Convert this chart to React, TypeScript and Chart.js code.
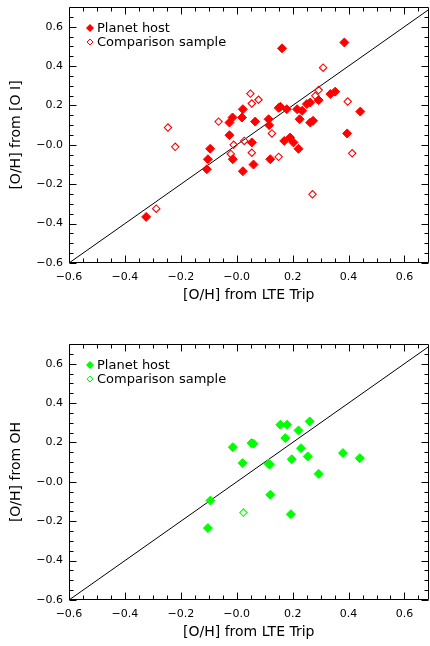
import React, { useEffect, useRef } from "react";
import { Chart, registerables } from "chart.js";

Chart.register(...registerables);

// ---- Data ----
// Top panel: [O/H] from [O I] vs [O/H] from LTE Trip
const hostTopX = [-0.324, -0.107, -0.103, -0.095, -0.026, -0.026, -0.015, -0.014, 0.019, 0.022, 0.022, 0.054, 0.060, 0.066, 0.114, 0.116, 0.120, 0.162, 0.150, 0.156, 0.179, 0.170, 0.191, 0.203, 0.221, 0.216, 0.225, 0.234, 0.251, 0.263, 0.293, 0.263, 0.273, 0.335, 0.352, 0.385, 0.395, 0.442];
const hostTopY = [-0.366, -0.124, -0.073, -0.020, 0.049, 0.113, 0.139, -0.073, 0.139, 0.181, -0.134, 0.012, -0.100, 0.118, 0.130, 0.100, -0.073, 0.490, 0.188, 0.193, 0.181, 0.020, 0.037, 0.012, -0.020, 0.181, 0.130, 0.173, 0.207, 0.215, 0.227, 0.113, 0.122, 0.258, 0.270, 0.520, 0.058, 0.169];
const compTopX = [-0.288, -0.246, -0.220, -0.065, -0.021, -0.011, 0.027, 0.049, 0.054, 0.078, 0.054, 0.126, 0.150, 0.271, 0.281, 0.293, 0.309, 0.397, 0.413];
const compTopY = [-0.324, 0.088, -0.010, 0.118, -0.046, 0.000, 0.020, 0.260, 0.210, 0.229, -0.040, 0.058, -0.061, -0.251, 0.249, 0.278, 0.392, 0.220, -0.043];

// Bottom panel: [O/H] from OH vs [O/H] from LTE Trip
const hostBotX = [-0.103, -0.094, -0.014, 0.021, 0.053, 0.060, 0.114, 0.118, 0.120, 0.156, 0.174, 0.180, 0.194, 0.197, 0.221, 0.230, 0.254, 0.261, 0.293, 0.380, 0.440];
const hostBotY = [-0.235, -0.095, 0.176, 0.095, 0.197, 0.194, 0.092, 0.088, -0.066, 0.290, 0.222, 0.290, -0.164, 0.115, 0.261, 0.171, 0.129, 0.307, 0.041, 0.146, 0.120];
const compBotX = [0.024];
const compBotY = [-0.156];

// Axes
const axisMin = -0.6;
const xMax = 0.686;
const yMax = 0.7;
const majorTicks = [-0.6, -0.4, -0.2, 0.0, 0.2, 0.4, 0.6];
const minorStep = 0.05;
const xTitle = "[O/H] from LTE Trip";
const yTitleTop = "[O/H] from [O I]";
const yTitleBottom = "[O/H] from OH";
const legendLabels = ["Planet host", "Comparison sample"];
const diagonal = [-0.6, 0.7];

const FONT = "'DejaVu Sans', sans-serif";

function fmt(v: number): string {
  if (Math.abs(v) < 1e-9) return "\u22120.0";
  if (v < 0) return "\u2212" + Math.abs(v).toFixed(1);
  return v.toFixed(1);
}

const framePlugin = {
  id: "idlFrame",
  afterDatasetsDraw(chart: any, _args: any, opts: any) {
    const { ctx, chartArea: a, scales } = chart;
    const xs = scales.x;
    const ys = scales.y;
    ctx.save();
    ctx.strokeStyle = "#000";
    ctx.lineWidth = 1;
    const L = Math.round(a.left) + 0.5;
    const R = Math.round(a.right) - 0.5;
    const T = Math.round(a.top) + 0.5;
    const B = Math.round(a.bottom) - 0.5;
    ctx.beginPath();
    ctx.rect(L, T, R - L, B - T);
    ctx.stroke();
    ctx.beginPath();
    for (let k = -12; k <= 14; k++) {
      const v = k * minorStep;
      const len = k % 4 === 0 ? 7 : 4;
      if (v >= xs.min - 1e-9 && v <= xs.max - 0.01) {
        const px = Math.round(xs.getPixelForValue(v)) + 0.5;
        ctx.moveTo(px, B);
        ctx.lineTo(px, B - len);
        ctx.moveTo(px, T);
        ctx.lineTo(px, T + len);
      }
      if (v >= ys.min - 1e-9 && v <= ys.max - 0.01) {
        const py = Math.round(ys.getPixelForValue(v)) + 0.5;
        ctx.moveTo(L, py);
        ctx.lineTo(L + len, py);
        ctx.moveTo(R, py);
        ctx.lineTo(R - len, py);
      }
    }
    ctx.stroke();

    // legend
    const color = opts.color;
    const lx = a.left + 21;
    const ly0 = a.top + 21;
    const dy = 14;
    ctx.font = "13px " + FONT;
    ctx.textBaseline = "middle";
    ctx.textAlign = "left";
    for (let i = 0; i < legendLabels.length; i++) {
      const cy = ly0 + i * dy;
      ctx.beginPath();
      const r = i === 0 ? 4 : 3;
      ctx.moveTo(lx, cy - r);
      ctx.lineTo(lx + r, cy);
      ctx.lineTo(lx, cy + r);
      ctx.lineTo(lx - r, cy);
      ctx.closePath();
      if (i === 0) {
        ctx.fillStyle = color;
        ctx.fill();
      } else {
        ctx.strokeStyle = color;
        ctx.stroke();
      }
      ctx.fillStyle = "#000";
      ctx.fillText(legendLabels[i], lx + 7, cy + 0.5);
    }
    ctx.restore();
  },
};

type PanelProps = {
  hostX: number[];
  hostY: number[];
  compX: number[];
  compY: number[];
  color: string;
  yTitle: string;
  top: number;
  padTop: number;
  xAxisHeight: number;
  xTitlePad: number;
};

function Panel(p: PanelProps) {
  const ref = useRef<HTMLCanvasElement | null>(null);
  useEffect(() => {
    if (!ref.current) return;
    const chart = new Chart(ref.current, {
      type: "scatter",
      data: {
        datasets: [
          {
            type: "scatter",
            label: legendLabels[0],
            data: p.hostX.map((x, i) => ({ x, y: p.hostY[i] })),
            pointStyle: "rectRot",
            pointRadius: 4.5,
            pointBackgroundColor: p.color,
            pointBorderColor: p.color,
            pointBorderWidth: 1,
          },
          {
            type: "scatter",
            label: legendLabels[1],
            data: p.compX.map((x, i) => ({ x, y: p.compY[i] })),
            pointStyle: "rectRot",
            pointRadius: 3.7,
            pointBackgroundColor: "rgba(0,0,0,0)",
            pointBorderColor: p.color,
            pointBorderWidth: 1.1,
          },
          {
            type: "line",
            label: "1:1",
            data: diagonal.map((v) => ({ x: v, y: v })),
            borderColor: "#000",
            borderWidth: 1,
            pointRadius: 0,
            fill: false,
          } as any,
        ],
      },
      options: {
        responsive: false,
        animation: false,
        devicePixelRatio: 1,
        layout: { padding: { top: p.padTop, right: 2, left: 0, bottom: 0 } },
        plugins: {
          legend: { display: false },
          tooltip: { enabled: false },
          idlFrame: { color: p.color },
        } as any,
        scales: {
          x: {
            type: "linear",
            min: axisMin,
            max: xMax,
            grid: { display: false, drawTicks: false },
            border: { display: false },
            afterBuildTicks: (s: any) => {
              s.ticks = majorTicks.map((v) => ({ value: v }));
            },
            afterFit: (s: any) => {
              s.height = p.xAxisHeight;
              s.paddingLeft = 0;
              s.paddingRight = 0;
            },
            ticks: {
              callback: (v: any) => fmt(Number(v)),
              font: { family: FONT, size: 11 },
              color: "#000",
              padding: 8,
              maxRotation: 0,
              autoSkip: false,
            },
            title: {
              display: true,
              text: xTitle,
              font: { family: FONT, size: 14 },
              color: "#000",
              padding: { top: 0, bottom: p.xTitlePad },
            },
          },
          y: {
            type: "linear",
            min: axisMin,
            max: yMax,
            grid: { display: false, drawTicks: false },
            border: { display: false },
            afterBuildTicks: (s: any) => {
              s.ticks = majorTicks.map((v) => ({ value: v }));
            },
            afterFit: (s: any) => {
              s.width = 69;
              s.paddingTop = 0;
              s.paddingBottom = 0;
            },
            ticks: {
              callback: (v: any) => fmt(Number(v)),
              font: { family: FONT, size: 11 },
              color: "#000",
              padding: 6,
              autoSkip: false,
            },
            title: {
              display: true,
              text: p.yTitle,
              font: { family: FONT, size: 14 },
              color: "#000",
              padding: { top: 8, bottom: 0 },
            },
          },
        },
      },
      plugins: [framePlugin],
    } as any);
    return () => chart.destroy();
  }, []);
  return (
    <div style={{ position: "absolute", left: 0, top: p.top, width: 430, height: 323, overflow: "hidden" }}>
      <canvas ref={ref} width={434} height={323} style={{ display: "block" }} />
    </div>
  );
}

export default function App() {
  return (
    <div style={{ position: "absolute", left: 0, top: 0, width: 430, height: 646, background: "#fff", overflow: "hidden" }}>
      <Panel
        hostX={hostTopX}
        hostY={hostTopY}
        compX={compTopX}
        compY={compTopY}
        color="#ff0000"
        yTitle={yTitleTop}
        top={0}
        padTop={7}
        xAxisHeight={60}
        xTitlePad={19}
      />
      <Panel
        hostX={hostBotX}
        hostY={hostBotY}
        compX={compBotX}
        compY={compBotY}
        color="#00ff00"
        yTitle={yTitleBottom}
        top={323}
        padTop={21}
        xAxisHeight={46}
        xTitlePad={5}
      />
    </div>
  );
}
